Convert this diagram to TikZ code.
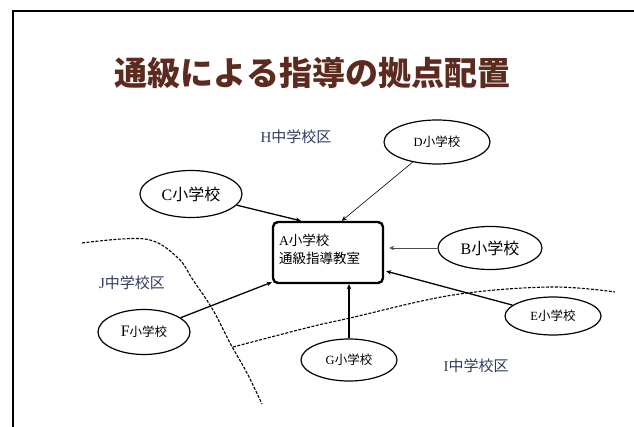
\documentclass[tikz,border=0pt]{standalone}
\usepackage{fontspec}
\setmainfont{Liberation Serif}
\newfontfamily\cjk{Noto Sans CJK JP}
\usetikzlibrary{shapes.geometric,arrows.meta,calc}
\definecolor{titlecol}{HTML}{5C2A1F}
\definecolor{distcol}{HTML}{2F3B5C}
\tikzset{
  school/.style={ellipse, draw, line width=1.2pt, inner sep=0pt},
  district/.style={text=distcol, inner sep=0pt, font=\fontsize{15}{17}\selectfont},
  link/.style={-{Stealth[length=5pt,width=4.5pt]}, line width=1.3pt},
  border/.style={dash pattern=on 3pt off 1.5pt, line width=1.1pt},
}
\newcommand{\jp}[1]{{\cjk #1}}
\begin{document}
\begin{tikzpicture}[x=1pt,y=-1pt]
\useasboundingbox (0,0) rectangle (634,427);
% frame
\draw[line width=2pt] (13,427) -- (13,11) -- (634,11);
% title
\node (title) [text=titlecol, font=\fontsize{33}{36}\selectfont\cjk\bfseries] at (312.5,72.5) {通級による指導の拠点配置};
% district borders
\draw[border] plot[smooth, tension=0.6] coordinates {(82,243) (145,239) (177,257) (193,280) (213,310) (230,343) (247,373) (262,404)};
\draw[border] plot[smooth, tension=0.6] coordinates {(233,347) (310,327) (350,318) (453,295) (550,287) (615,292)};
% district labels
\node (H) [district] at (296,137) {H\jp{中学校区}};
\node (J) [district] at (132,283) {J\jp{中学校区}};
\node (I) [district] at (476,366) {I\jp{中学校区}};
% centre
\node (A) [draw, line width=2.4pt, rounded corners=5pt, minimum width=110pt, minimum height=61pt, inner sep=0pt] at (328,252.5) {};
\node (Atext) [align=left, anchor=west, inner sep=0pt, font=\fontsize{13.5}{18}\selectfont] at (279,249) {A\jp{小学校}\\\jp{通級指導教室}};
% schools
\node (C) [school, minimum width=102pt, minimum height=47pt, font=\fontsize{16}{18}\selectfont] at (191,194) {C\jp{小学校}};
\node (D) [school, minimum width=106pt, minimum height=44pt, font=\fontsize{12.5}{14}\selectfont] at (437,142) {D\jp{小学校}};
\node (B) [school, minimum width=104pt, minimum height=43pt, font=\fontsize{16}{18}\selectfont] at (490,248) {B\jp{小学校}};
\node (E) [school, minimum width=96pt, minimum height=38pt, font=\fontsize{12.5}{14}\selectfont] at (553,316) {E\jp{小学校}};
\node (G) [school, minimum width=96pt, minimum height=42pt, font=\fontsize{12.5}{14}\selectfont] at (349,360) {G\jp{小学校}};
\node (F) [school, minimum width=92pt, minimum height=45pt, font=\fontsize{12.5}{14}\selectfont] at (144,332) {{\fontsize{16}{18}\selectfont F}\jp{小学校}};
% connectors
\draw[link] (C) -- ([xshift=29pt]A.north west);
\draw[link, line width=0.6pt] (D) -- ([xshift=70pt]A.north west);
\draw[link, line width=0.9pt, draw=black!70] (B.west) -- ([xshift=5pt]A.east |- B.west);
\draw[link] (E) -- ([xshift=2pt,yshift=13pt]A.south east);
\draw[link] (G.north) -- (G.north |- A.south);
\draw[link] (F) -- ([yshift=2pt]A.south west);
\end{tikzpicture}
\end{document}
